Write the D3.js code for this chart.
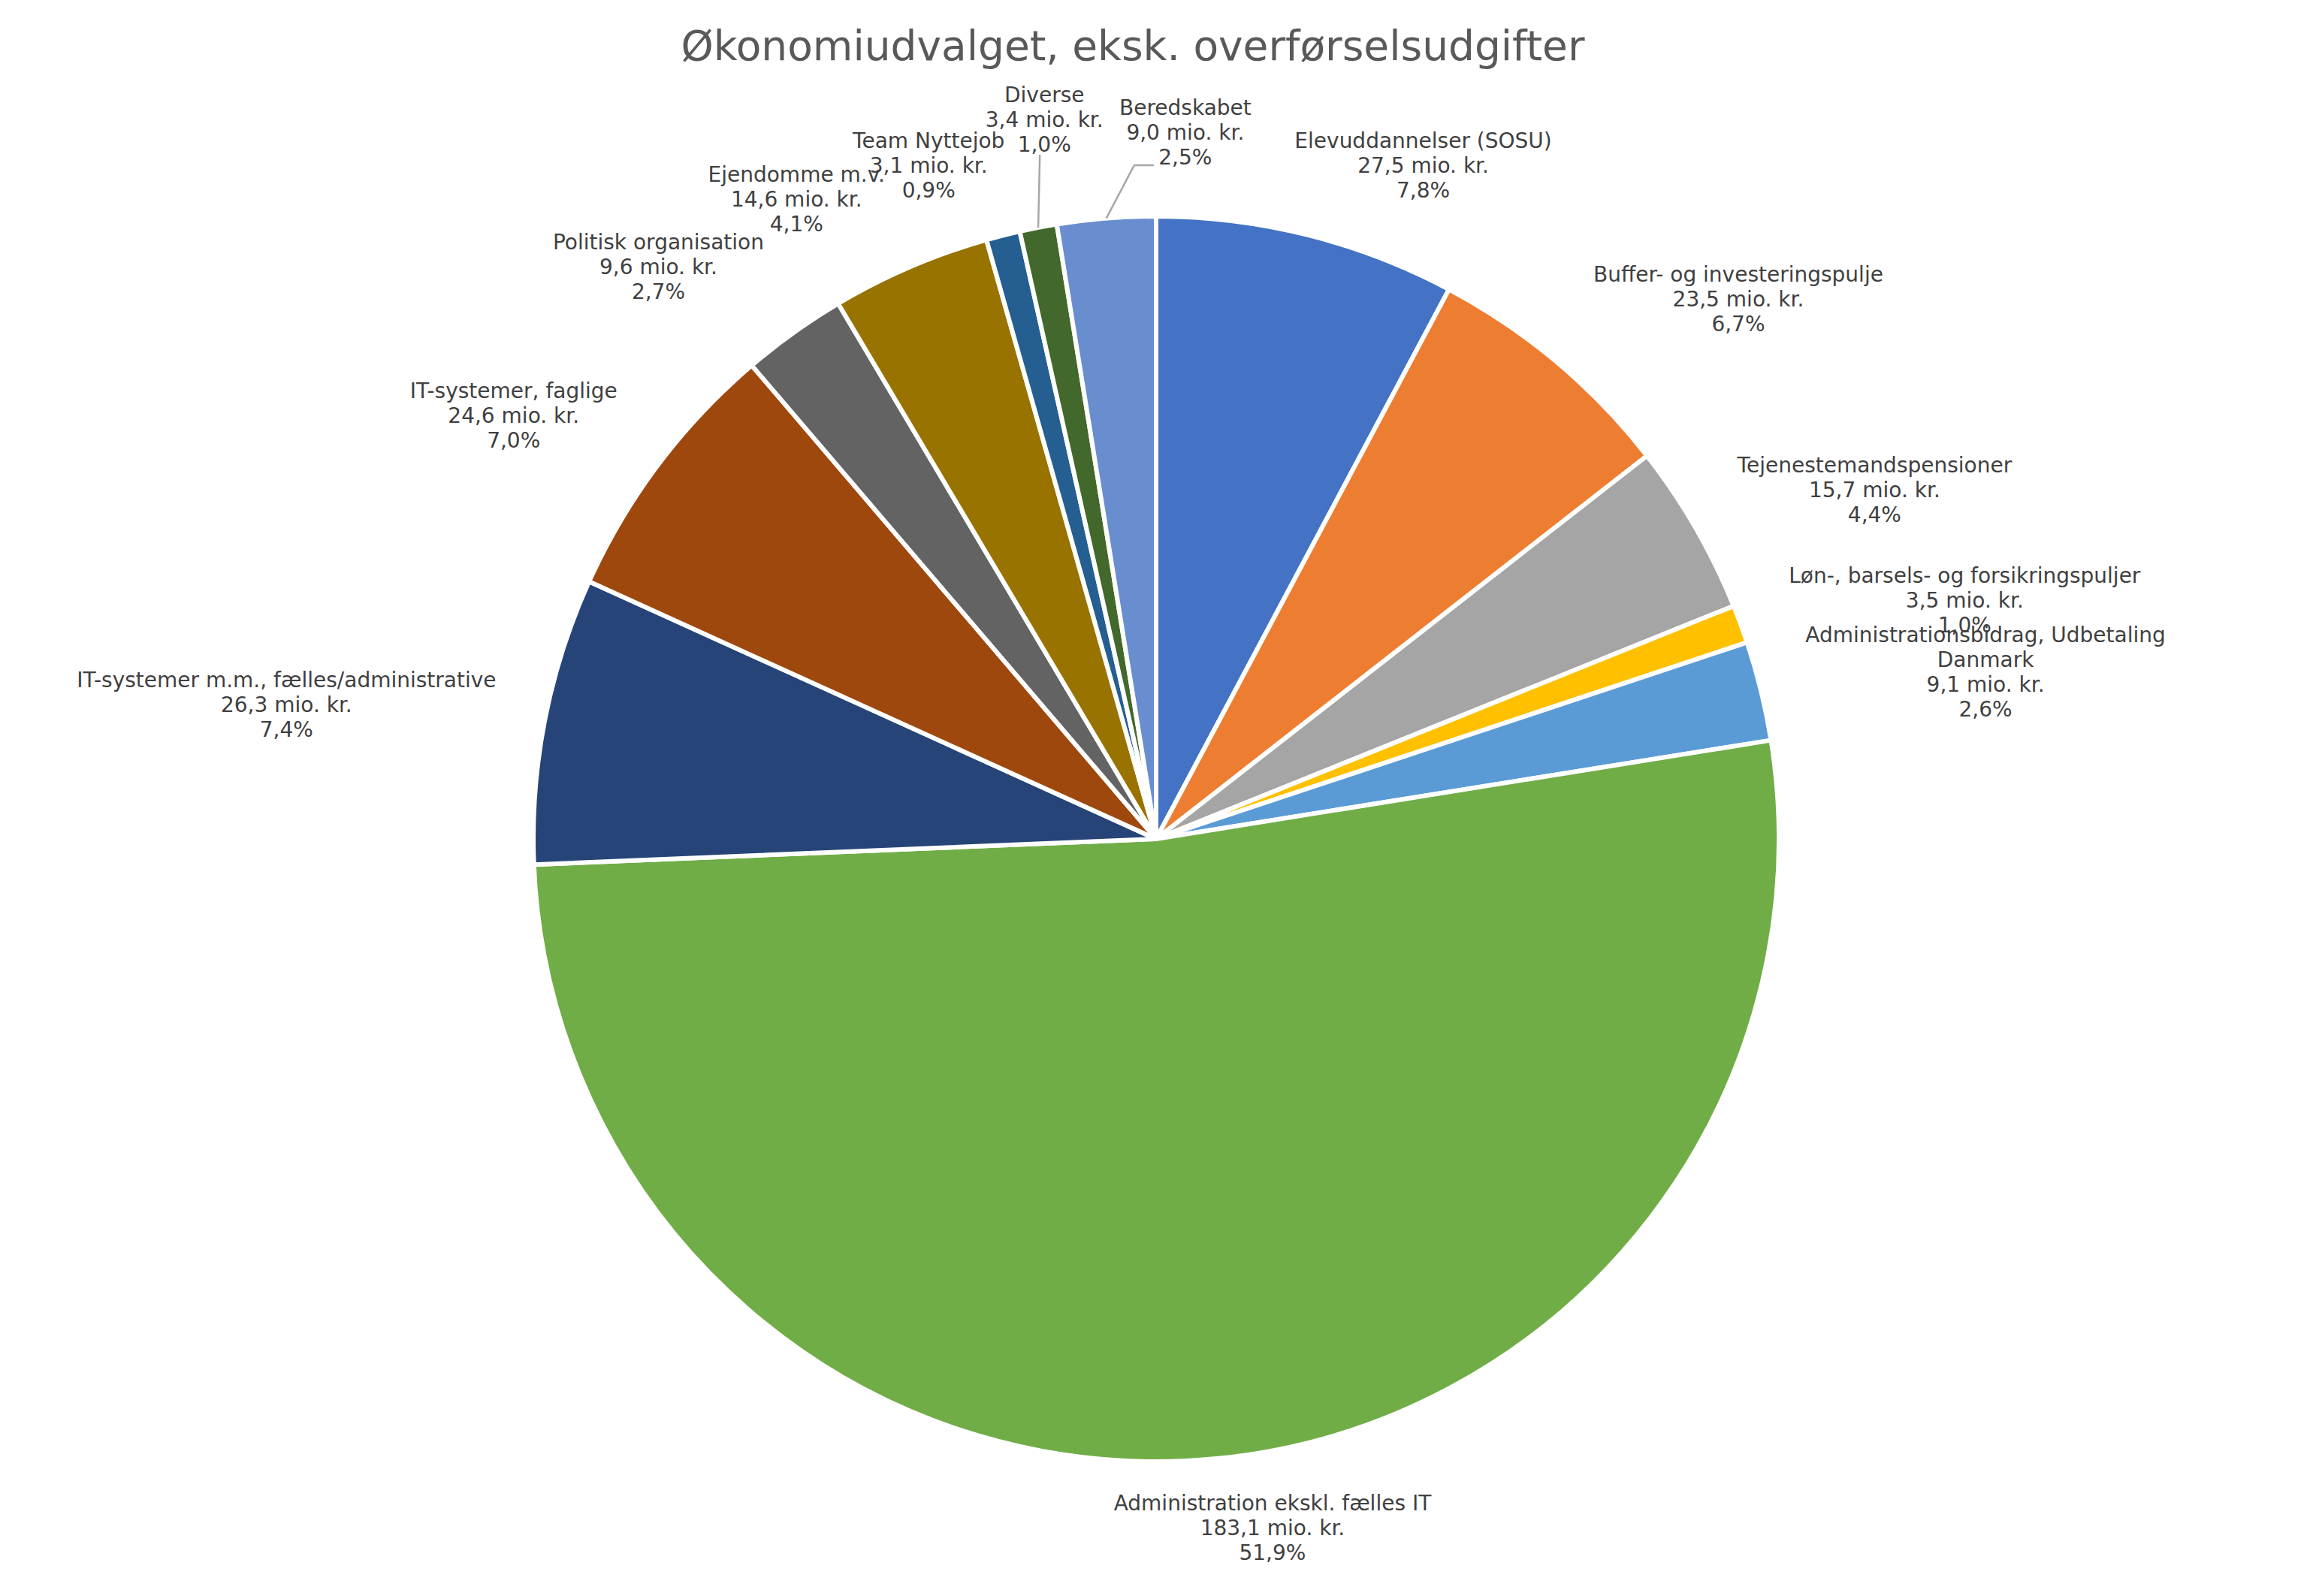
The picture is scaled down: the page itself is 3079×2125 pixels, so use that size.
<!DOCTYPE html>
<html>
<head>
<meta charset="utf-8">
<script src="https://cdn.jsdelivr.net/npm/d3@7"></script>
<style>
  body { margin: 0; background: #fff; }
  text { font-family: "DejaVu Sans", Verdana, sans-serif; }
</style>
</head>
<body>
<svg id="chart" width="3079" height="2125"></svg>
<script>
// data (mio. kr.), clockwise from 12 o'clock
var categories = [
  "Elevuddannelser (SOSU)",
  "Buffer- og investeringspulje",
  "Tejenestemandspensioner",
  "Løn-, barsels- og forsikringspuljer",
  "Administrationsbidrag, Udbetaling Danmark",
  "Administration ekskl. fælles IT",
  "IT-systemer m.m., fælles/administrative",
  "IT-systemer, faglige",
  "Politisk organisation",
  "Ejendomme m.v.",
  "Team Nyttejob",
  "Diverse",
  "Beredskabet"
];
var values = [27.5, 23.5, 15.7, 3.5, 9.1, 183.1, 26.26, 24.6, 9.6, 14.6, 3.1, 3.4, 9.0];
var colors = ["#4472C4", "#ED7D31", "#A5A5A5", "#FFC000", "#5B9BD5", "#70AD47",
              "#264478", "#9E480E", "#636363", "#997300", "#255E91", "#43682B", "#698ED0"];
var title = "Økonomiudvalget, eksk. overførselsudgifter";

// label nudges from the default outside position [dx, dy]
var labelNudge = [[128, 14], [171, 0], [143, 4], [195, 6], [192, 1], [61, -17],
                  [-236, 1], [-105, 1], [-116, 2], [-108, 11], [-72, 13], [29, -36], [114, -5]];
// leader lines, points relative to label centre / first baseline
var leaders = {
  11: [[-6, 70]],
  12: [[-68, 67], [-42, 67]]
};

var svg = d3.select("#chart");
var width = 3079, height = 2125;
var cx = 1539, cy = 1117, radius = 829;
var lineH = 33;

var fmt = function(v) { return d3.format(".1f")(v).replace(".", ","); };
var total = d3.sum(values);

var data = categories.map(function(c, i) {
  return { name: c, value: values[i], color: colors[i], i: i };
});

var pie = d3.pie().sort(null).value(function(d) { return d.value; });
var arcs = pie(data);

var arc = d3.arc().innerRadius(0).outerRadius(radius);
var edgeArc = d3.arc().innerRadius(radius).outerRadius(radius);
var labelArc = d3.arc().innerRadius(radius + 110).outerRadius(radius + 110);

// title
svg.append("text")
  .attr("x", 1508)
  .attr("y", 80)
  .attr("text-anchor", "middle")
  .style("font-size", "55px")
  .style("fill", "#595959")
  .text(title);

var plot = svg.append("g").attr("transform", "translate(" + cx + "," + cy + ")");

// slices
plot.selectAll("path.slice")
  .data(arcs)
  .enter().append("path")
  .attr("class", "slice")
  .attr("d", arc)
  .attr("fill", function(d) { return d.data.color; })
  .attr("stroke", "#fff")
  .attr("stroke-width", 6)
  .attr("stroke-linejoin", "round");

// labels
var labels = plot.append("g");
arcs.forEach(function(d) {
  var i = d.data.i;
  var t = labels.append("text")
    .attr("text-anchor", "middle")
    .style("font-size", "28px")
    .style("fill", "#404040");

  // wrap long names like Excel does
  var words = d.data.name.split(" ");
  var nameLines = [];
  var cur = "";
  var probe = t.append("tspan");
  words.forEach(function(w) {
    var test = cur ? cur + " " + w : w;
    probe.text(test);
    if (probe.node().getComputedTextLength() > 580 && cur) {
      nameLines.push(cur);
      cur = w;
    } else {
      cur = test;
    }
  });
  nameLines.push(cur);
  probe.remove();

  var lines = nameLines.concat([
    fmt(d.data.value) + " mio. kr.",
    fmt(d.data.value / total * 100) + "%"
  ]);

  var a = labelArc.centroid(d);
  var x = a[0] + labelNudge[i][0];
  var b1 = a[1] - (lines.length - 1) * lineH / 2 + 10 + labelNudge[i][1];

  lines.forEach(function(l, k) {
    t.append("tspan")
      .attr("x", x)
      .attr("y", b1 + k * lineH)
      .text(l);
  });

  if (leaders[i]) {
    var pts = [edgeArc.centroid(d)].concat(leaders[i].map(function(p) {
      return [x + p[0], b1 + p[1]];
    }));
    plot.append("path")
      .attr("d", d3.line()(pts))
      .attr("fill", "none")
      .attr("stroke", "#A6A6A6")
      .attr("stroke-width", 2.5);
  }
});
</script>
</body>
</html>
